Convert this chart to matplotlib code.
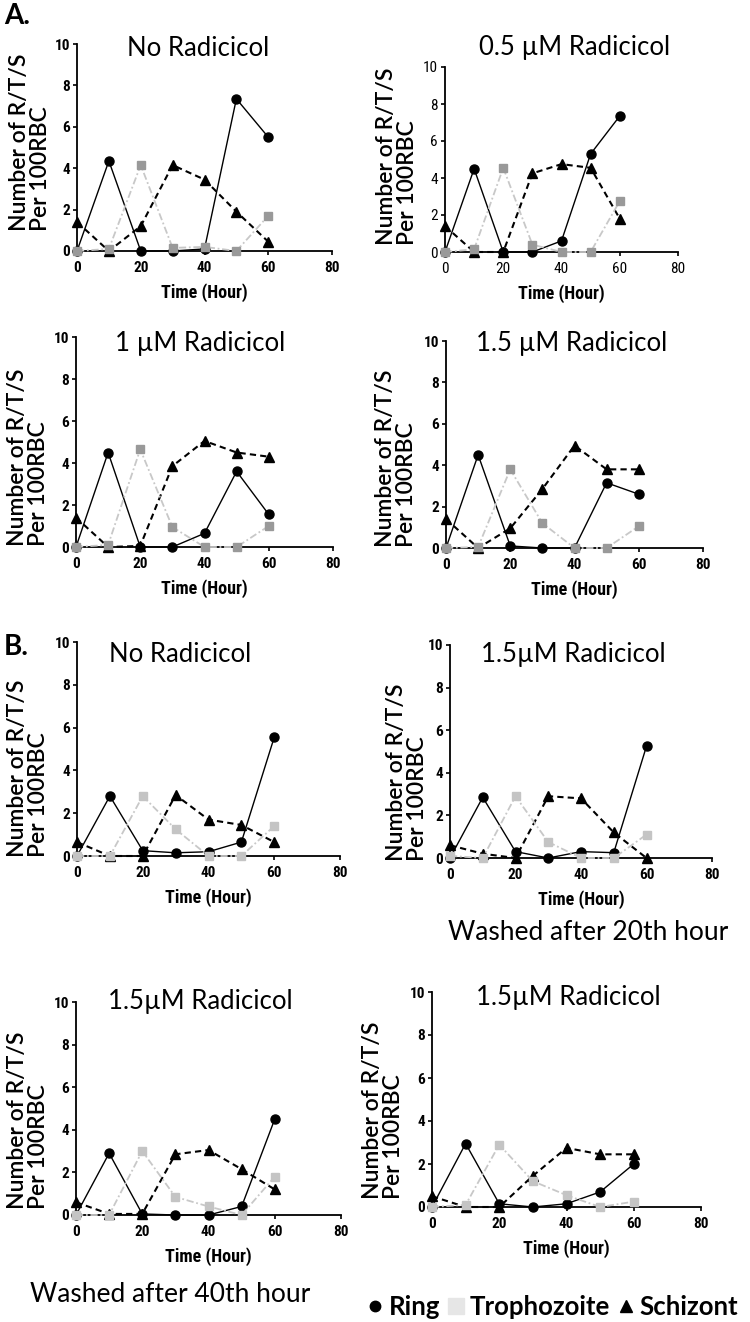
import matplotlib
matplotlib.use("Agg")
import matplotlib.pyplot as plt
from matplotlib import font_manager as fm
from matplotlib.lines import Line2D

# ---------------- data ----------------
hours = [0, 10, 20, 30, 40, 50, 60]

titles = ["No Radicicol", "0.5 \u00b5M Radicicol", "1 \u00b5M Radicicol", "1.5 \u00b5M Radicicol",
          "No Radicicol", "1.5\u00b5M Radicicol", "1.5\u00b5M Radicicol", "1.5\u00b5M Radicicol"]

ring_A1 = [0, 4.35, 0, 0, 0.1, 7.35, 5.5]
troph_A1 = [0, 0.1, 4.15, 0.15, 0.2, 0, 1.7]
schiz_A1 = [1.4, 0, 1.2, 4.15, 3.45, 1.9, 0.45]

ring_A2 = [0, 4.5, 0, 0, 0.6, 5.3, 7.35]
troph_A2 = [0, 0.15, 4.55, 0.4, 0, 0, 2.75]
schiz_A2 = [1.4, 0, 0, 4.25, 4.75, 4.55, 1.8]

ring_A3 = [0, 4.5, 0, 0, 0.65, 3.6, 1.55]
troph_A3 = [0, 0.1, 4.65, 0.95, 0, 0, 1.0]
schiz_A3 = [1.4, 0, 0.05, 3.85, 5.05, 4.5, 4.3]

ring_A4 = [0, 4.5, 0.1, 0, 0, 3.15, 2.6]
troph_A4 = [0, 0.05, 3.8, 1.2, 0, 0, 1.05]
schiz_A4 = [1.4, 0, 0.95, 2.85, 4.95, 3.8, 3.8]

ring_B1 = [0, 2.8, 0.25, 0.15, 0.2, 0.65, 5.55]
troph_B1 = [0, 0, 2.8, 1.25, 0, 0, 1.4]
schiz_B1 = [0.65, 0, 0, 2.85, 1.7, 1.45, 0.65]

ring_B2 = [0, 2.85, 0.3, 0, 0.3, 0.25, 5.25]
troph_B2 = [0.1, 0, 2.9, 0.75, 0, 0, 1.1]
schiz_B2 = [0.6, 0.2, 0, 2.9, 2.8, 1.2, 0]

ring_B3 = [0, 2.9, 0.05, 0, 0, 0.4, 4.5]
troph_B3 = [0, 0, 3.0, 0.85, 0.4, 0, 1.8]
schiz_B3 = [0.6, 0.05, 0.05, 2.85, 3.05, 2.15, 1.2]

ring_B4 = [0, 2.95, 0.15, 0, 0.15, 0.7, 2.0]
troph_B4 = [0, 0.1, 2.9, 1.2, 0.55, 0, 0.25]
schiz_B4 = [0.5, 0, 0, 1.45, 2.75, 2.45, 2.45]

xticks = [0, 20, 40, 60, 80]
yticks = [0, 2, 4, 6, 8, 10]
xlabel = "Time (Hour)"
ylabel = "Number of R/T/S\nPer 100RBC"
stage_names = ["Ring", "Trophozoite", "Schizont"]
notes = ["Washed after 20th hour", "Washed after 40th hour"]

# ---------------- fonts ----------------
names = {f.name for f in fm.fontManager.ttflist}


def pick(cands, default="DejaVu Sans"):
    for c in cands:
        if c in names:
            return c
    return default


SANS = pick(["Lato", "Open Sans", "Noto Sans"])
NARROW = pick(["Liberation Sans Narrow", "DejaVu Sans Condensed", "Roboto Condensed"], "Liberation Sans")

W, H = 750, 1322
fig = plt.figure(figsize=(W / 100, H / 100), dpi=100)
fig.patch.set_facecolor("white")


def fx(px):
    return px / W


def fy(py):
    return 1 - py / H


# axes boxes in pixels: (left, right at x=80, top at y=10, bottom at y=0)
boxes = [(77, 332, 44, 251), (445, 678, 67, 252), (76, 333, 337, 547), (446, 703, 341, 548),
         (77, 340, 642, 856), (450, 712, 645, 858), (76, 341, 1002, 1215), (432, 701, 992, 1207)]
title_pos = [(198, 48), (575, 47), (200, 343), (572, 343), (180, 655), (573, 655), (200, 1002), (568, 998)]
ylab_pos = [(30, 142), (397, 156), (28, 457), (396, 458), (28, 768), (407, 772), (28, 1120), (383, 1110)]

series = [(ring_A1, troph_A1, schiz_A1), (ring_A2, troph_A2, schiz_A2), (ring_A3, troph_A3, schiz_A3),
          (ring_A4, troph_A4, schiz_A4), (ring_B1, troph_B1, schiz_B1), (ring_B2, troph_B2, schiz_B2),
          (ring_B3, troph_B3, schiz_B3), (ring_B4, troph_B4, schiz_B4)]

for i, ((L, R, T, B), (ring, troph, schiz)) in enumerate(zip(boxes, series)):
    ax = fig.add_axes([fx(L), fy(B), fx(R - L), (B - T) / H])
    ax.set_xlim(0, 80)
    ax.set_ylim(0, 10)
    for s in ["top", "right"]:
        ax.spines[s].set_visible(False)
    for s in ["left", "bottom"]:
        ax.spines[s].set_linewidth(1.3)
    sq_col = "#999999" if i < 4 else "#c4c4c4"
    ax.plot(hours, ring, color="black", lw=1.0, marker="o", ms=6.5, clip_on=False, zorder=3)
    ax.plot(hours, schiz, color="black", lw=1.5, ls=(0, (3, 2)), marker="^", ms=6.5, clip_on=False, zorder=4)
    ax.plot(hours, troph, color="#c8c8c8", lw=1.3, ls=(0, (4, 1.5, 1, 1.5)), marker="s", ms=6.2,
            mfc=sq_col, mec=sq_col, clip_on=False, zorder=5)
    ax.set_xticks(xticks)
    ax.set_yticks(yticks)
    ax.tick_params(length=3, width=1.2)
    ax.tick_params(axis="x", pad=4)
    ax.tick_params(axis="y", pad=2)
    tick_w = "normal" if i == 1 else "bold"
    for lab in ax.get_xticklabels() + ax.get_yticklabels():
        lab.set_fontfamily(NARROW)
        lab.set_fontweight(tick_w)
        lab.set_fontsize(11)
    ax.set_xlabel(xlabel, fontfamily=NARROW, fontweight="bold", fontsize=13, labelpad=6)
    tx, ty = title_pos[i]
    fig.text(fx(tx), fy(ty), titles[i], ha="center", va="center", fontfamily=SANS, fontsize=18.5)
    lx, ly = ylab_pos[i]
    fig.text(fx(lx), fy(ly), ylabel, rotation=90, ha="center", va="center", multialignment="left",
             fontfamily=SANS, fontsize=16.5, fontweight="semibold", linespacing=1.05)

fig.text(fx(4), fy(16), "A.", ha="left", va="center", fontfamily=SANS, fontweight="bold", fontsize=20)
fig.text(fx(4), fy(647), "B.", ha="left", va="center", fontfamily=SANS, fontweight="bold", fontsize=20)
fig.text(fx(588), fy(933), notes[0], ha="center", va="center", fontfamily=SANS, fontsize=19)
fig.text(fx(170), fy(1295), notes[1], ha="center", va="center", fontfamily=SANS, fontsize=19)

handles = [Line2D([], [], color="black", marker="o", ls="none", ms=7.5),
           Line2D([], [], color="#e6e6e6", marker="s", ls="none", ms=12),
           Line2D([], [], color="black", marker="^", ls="none", ms=9)]
fig.legend(handles, stage_names, loc="center left", bbox_to_anchor=(fx(353), fy(1307)), ncol=3,
           frameon=False, handlelength=0.7, handletextpad=0.2, columnspacing=0.25, borderpad=0,
           prop={"family": SANS, "weight": "bold", "size": 18.5})

fig.savefig("out.png", dpi=100, facecolor="white")
